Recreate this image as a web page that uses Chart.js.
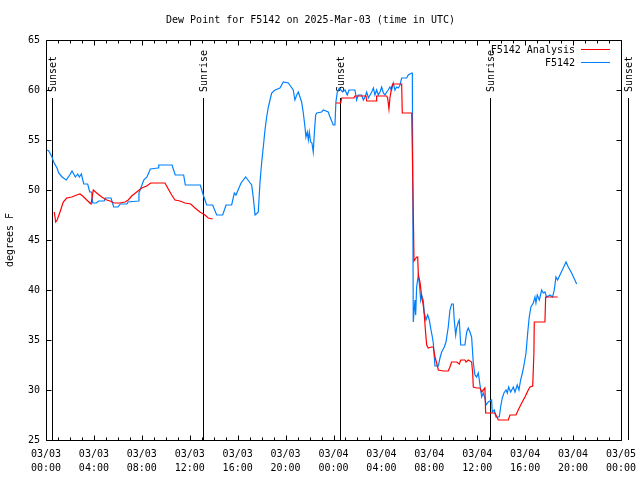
<!DOCTYPE html>
<html><head><meta charset="utf-8">
<script src="https://cdn.jsdelivr.net/npm/chart.js@4/dist/chart.umd.min.js"></script>
<style>html,body{margin:0;padding:0;background:#fff}</style>
</head><body>
<canvas id="c" width="640" height="480"></canvas>
<script>
// ---- data (hours since 03/03 00:00 UTC, dew point degF) ----
const chartTitle = 'Dew Point for F5142 on 2025-Mar-03 (time in UTC)';
const yTitle = 'degrees F';
const dayLabels = ['03/03', '03/04', '03/05'];
const seriesNames = ['F5142 Analysis', 'F5142'];
const sunHours = [0.53, 13.1, 24.55, 37.06, 48.6];
const sunLabels = ['Sunset', 'Sunrise', 'Sunset', 'Sunrise', 'Sunset'];

const analysisDay1 = [[0.69,47.8],[0.81,46.8],[0.93,47.0],[1.17,47.8],[1.44,48.8],[1.73,49.2],[2.15,49.3],[2.56,49.5],[2.84,49.6],[3.06,49.4],[3.4,49.0],[3.76,48.6],[3.95,50.0],[4.23,49.7],[4.65,49.3],[5.07,49.0],[5.34,48.9],[5.68,48.7],[6.18,48.7],[6.59,48.8],[6.87,49.0],[7.15,49.4],[7.57,49.8],[7.99,50.2],[8.41,50.4],[8.74,50.7],[9.93,50.7],[10.21,50.1],[10.49,49.5],[10.77,49.0],[11.19,48.9],[11.6,48.7],[12.08,48.6],[12.44,48.2],[12.85,47.8],[13.27,47.5],[13.55,47.2],[13.91,47.1]];
const analysisDay2 = [[24.21,58.7],[24.6,58.7],[24.68,59.2],[25.71,59.2],[25.79,59.4],[26.71,59.4],[26.77,58.9],[27.55,58.9],[27.6,59.4],[28.44,59.4],[28.52,59.2],[28.63,58.1],[28.71,59.2],[28.86,60.3],[28.94,60.6],[29.69,60.6],[29.74,57.7],[30.53,57.7],[30.64,49.5],[30.72,42.9],[30.94,43.3],[31.03,43.3],[31.08,41.5],[31.22,40.8],[31.3,40.0],[31.36,39.3],[31.49,38.5],[31.58,37.5],[31.69,35.7],[31.78,34.5],[31.91,34.2],[32.2,34.3],[32.33,34.3],[32.47,33.3],[32.61,32.7],[32.75,32.0],[33.16,31.9],[33.58,31.9],[33.72,32.3],[33.86,32.8],[34.28,32.8],[34.5,32.6],[34.62,33.0],[34.97,33.0],[35.06,32.8],[35.25,33.0],[35.53,32.8],[35.62,31.7],[35.67,30.3],[35.95,30.2],[36.23,30.2],[36.37,29.8],[36.64,30.2],[36.7,27.7],[37.48,27.7],[37.56,27.5],[37.76,27.0],[38.59,27.0],[38.73,27.5],[39.23,27.5],[39.42,28.0],[39.71,28.7],[39.98,29.3],[40.26,30.0],[40.4,30.3],[40.63,30.4],[40.73,33.7],[40.76,36.8],[41.65,36.8],[41.71,39.3],[42.71,39.3]];

const observed = [[0.1,54.0],[0.23,53.9],[0.5,53.3],[0.64,52.8],[0.92,52.2],[1.06,51.7],[1.34,51.3],[1.69,51.0],[1.98,51.5],[2.17,51.9],[2.45,51.3],[2.65,51.6],[2.78,51.3],[2.95,51.6],[3.15,50.6],[3.48,50.6],[3.65,49.8],[3.81,49.8],[3.9,48.7],[4.2,48.7],[4.4,48.9],[4.87,48.9],[4.95,49.2],[5.43,49.2],[5.65,48.3],[6.01,48.3],[6.2,48.6],[6.76,48.6],[6.84,48.8],[7.74,48.9],[7.76,49.7],[8.01,50.5],[8.16,51.0],[8.43,51.3],[8.71,52.1],[9.35,52.2],[9.41,52.5],[10.52,52.5],[10.79,51.5],[11.49,51.5],[11.63,50.5],[12.88,50.5],[13.13,49.5],[13.41,48.5],[13.91,48.5],[14.25,47.5],[14.75,47.5],[15.03,48.5],[15.5,48.5],[15.72,49.7],[15.86,49.5],[16.28,50.7],[16.67,51.3],[16.86,51.0],[17.17,50.5],[17.3,49.3],[17.45,47.5],[17.64,47.7],[17.72,47.8],[17.86,50.7],[18.0,52.7],[18.14,54.3],[18.28,56.0],[18.42,57.3],[18.56,58.3],[18.7,59.0],[18.84,59.7],[19.12,60.0],[19.53,60.2],[19.81,60.8],[20.23,60.7],[20.64,60.0],[20.78,59.0],[20.93,59.5],[21.06,59.8],[21.2,59.3],[21.34,58.8],[21.48,57.7],[21.62,56.3],[21.7,55.3],[21.81,55.8],[21.9,55.0],[21.98,55.8],[22.09,54.8],[22.2,54.7],[22.31,53.8],[22.4,55.7],[22.51,57.5],[22.6,57.7],[23.01,57.8],[23.15,58.0],[23.56,57.8],[23.71,57.3],[23.98,56.5],[24.12,56.5],[24.2,58.8],[24.32,59.8],[24.48,60.2],[24.54,60.2],[24.76,59.8],[24.96,60.0],[25.15,59.5],[25.29,60.0],[25.79,60.0],[25.93,59.0],[26.07,59.5],[26.35,59.5],[26.49,59.0],[26.63,59.3],[26.77,59.8],[26.91,59.2],[27.19,59.8],[27.33,60.2],[27.46,59.5],[27.6,60.0],[27.74,59.5],[27.88,59.8],[28.02,60.3],[28.16,59.7],[28.3,59.5],[28.44,59.8],[28.57,60.0],[28.71,60.3],[28.85,60.0],[28.99,60.7],[29.13,60.0],[29.27,60.3],[29.41,60.2],[29.55,60.5],[29.69,61.2],[30.11,61.2],[30.24,61.5],[30.53,61.7],[30.58,61.7],[30.66,36.8],[30.8,39.0],[30.86,37.5],[30.94,40.3],[31.08,41.5],[31.16,40.7],[31.28,39.0],[31.36,39.5],[31.49,39.0],[31.58,37.7],[31.72,37.0],[31.86,37.5],[32.0,37.0],[32.11,36.2],[32.25,35.3],[32.33,34.7],[32.47,32.4],[32.75,32.4],[32.89,33.2],[33.03,33.8],[33.25,34.3],[33.39,34.8],[33.58,36.3],[33.72,38.0],[33.86,38.6],[34.0,38.6],[34.08,37.0],[34.2,35.5],[34.28,36.2],[34.42,36.8],[34.5,37.0],[34.62,34.5],[34.97,34.5],[35.12,35.8],[35.25,36.2],[35.39,35.8],[35.53,35.3],[35.67,32.7],[35.81,31.5],[35.95,31.3],[36.09,31.7],[36.23,30.5],[36.37,29.3],[36.5,29.7],[36.64,29.2],[36.73,28.5],[36.92,28.8],[37.2,29.0],[37.25,27.8],[37.42,28.0],[37.56,27.3],[37.84,27.3],[37.95,28.3],[38.09,29.2],[38.23,29.7],[38.4,30.0],[38.51,29.7],[38.62,30.3],[38.79,29.8],[39.01,30.3],[39.15,29.8],[39.34,30.5],[39.48,30.0],[39.62,31.0],[39.79,31.8],[39.93,32.7],[40.07,33.7],[40.21,35.7],[40.34,37.3],[40.48,38.3],[40.68,38.7],[40.82,39.3],[40.9,38.7],[41.01,39.5],[41.18,39.0],[41.38,40.0],[41.51,39.7],[41.65,39.8],[41.79,39.3],[42.07,39.5],[42.29,39.3],[42.43,40.0],[42.57,41.3],[42.71,41.0],[42.9,41.5],[43.18,42.2],[43.41,42.8],[43.6,42.3],[43.88,41.7],[44.3,40.6]];

const RED = '#ff0000';
const BLUE = '#0080ff';
const FONT_FAMILY = "'DejaVu Sans Mono', 'Liberation Mono', monospace";
const FONT = '10px ' + FONT_FAMILY;

const toXY = arr => arr.map(p => ({x: p[0], y: p[1]}));
const analysisData = toXY(analysisDay1).concat([{x: 20, y: null}], toXY(analysisDay2));

const gnuplotPlugin = {
  id: 'gnuplotDeco',
  beforeDatasetsDraw(chart) {
    const {ctx, chartArea: a, scales: {x}} = chart;
    ctx.save();
    ctx.strokeStyle = '#000';
    ctx.fillStyle = '#000';
    ctx.lineWidth = 1;
    ctx.font = FONT;
    sunHours.forEach((h, i) => {
      const px = Math.round(x.getPixelForValue(h)) + 0.5;
      ctx.beginPath();
      ctx.moveTo(px, a.bottom);
      ctx.lineTo(px, a.top + 58);
      ctx.stroke();
      ctx.save();
      ctx.translate(px + 1, a.top + 52);
      ctx.rotate(-Math.PI / 2);
      ctx.textAlign = 'left';
      ctx.textBaseline = 'middle';
      ctx.fillText(sunLabels[i], 0, 0);
      ctx.restore();
    });
    ctx.restore();
  },
  afterDatasetsDraw(chart) {
    const {ctx, chartArea: a, scales: {x, y}} = chart;
    ctx.save();
    ctx.strokeStyle = '#000';
    ctx.lineWidth = 1;
    const L = Math.round(a.left) + 0.5, R = Math.round(a.right) + 0.5;
    const T = Math.round(a.top) + 0.5, B = Math.round(a.bottom) + 0.5;
    ctx.beginPath();
    ctx.rect(L, T, R - L, B - T);
    ctx.stroke();
    ctx.beginPath();
    for (let h = x.min; h <= x.max; h += 1) {
      const px = Math.round(x.getPixelForValue(h)) + 0.5;
      const len = (h % 4 === 0) ? 5 : 3;
      ctx.moveTo(px, B); ctx.lineTo(px, B - len);
      ctx.moveTo(px, T); ctx.lineTo(px, T + len);
    }
    y.ticks.forEach(t => {
      const py = Math.round(y.getPixelForValue(t.value)) + 0.5;
      ctx.moveTo(L, py); ctx.lineTo(L + 5, py);
      ctx.moveTo(R, py); ctx.lineTo(R - 5, py);
    });
    ctx.stroke();
    // legend
    ctx.font = FONT;
    ctx.fillStyle = '#000';
    ctx.textAlign = 'right';
    ctx.textBaseline = 'middle';
    const colors = [RED, BLUE];
    seriesNames.forEach((name, i) => {
      const ly = a.top + 10 + i * 13;
      ctx.fillText(name, a.right - 46, ly);
      ctx.strokeStyle = colors[i];
      ctx.beginPath();
      ctx.moveTo(a.right - 40, ly - 0.5);
      ctx.lineTo(a.right - 11, ly - 0.5);
      ctx.stroke();
    });
    ctx.restore();
  }
};

new Chart(document.getElementById('c'), {
  type: 'line',
  data: {
    datasets: [
      {label: seriesNames[0], data: analysisData, borderColor: RED, borderWidth: 1.2, pointRadius: 0, tension: 0, spanGaps: false, fill: false},
      {label: seriesNames[1], data: toXY(observed), borderColor: BLUE, borderWidth: 1.2, pointRadius: 0, tension: 0, fill: false}
    ]
  },
  options: {
    responsive: false,
    animation: false,
    devicePixelRatio: 1,
    layout: {padding: {left: 0, right: 19, top: 0, bottom: 0}},
    plugins: {
      legend: {display: false},
      tooltip: {enabled: false},
      title: {display: true, text: chartTitle, color: '#000', font: {family: FONT_FAMILY, size: 10, weight: 'normal'}, padding: {top: 14, bottom: 14}}
    },
    scales: {
      x: {
        type: 'linear', min: 0, max: 48,
        grid: {display: false, drawTicks: false},
        border: {display: false},
        ticks: {
          stepSize: 4, autoSkip: false, maxRotation: 0, padding: 7, color: '#000',
          font: {family: FONT_FAMILY, size: 10, lineHeight: 1.4},
          callback: v => [dayLabels[Math.floor(v / 24)], String(v % 24).padStart(2, '0') + ':00']
        },
        afterFit: s => { s.height = 40; s.paddingLeft = 0; s.paddingRight = 0; }
      },
      y: {
        min: 25, max: 65,
        grid: {display: false, drawTicks: false},
        border: {display: false},
        ticks: {stepSize: 5, padding: 6, color: '#000', font: {family: FONT_FAMILY, size: 10}},
        title: {display: true, text: yTitle, color: '#000', font: {family: FONT_FAMILY, size: 10}, padding: {top: 4, bottom: 0}},
        afterFit: s => { s.width = 46; s.paddingTop = 0; s.paddingBottom = 0; }
      }
    }
  },
  plugins: [gnuplotPlugin]
});
</script>
</body></html>
